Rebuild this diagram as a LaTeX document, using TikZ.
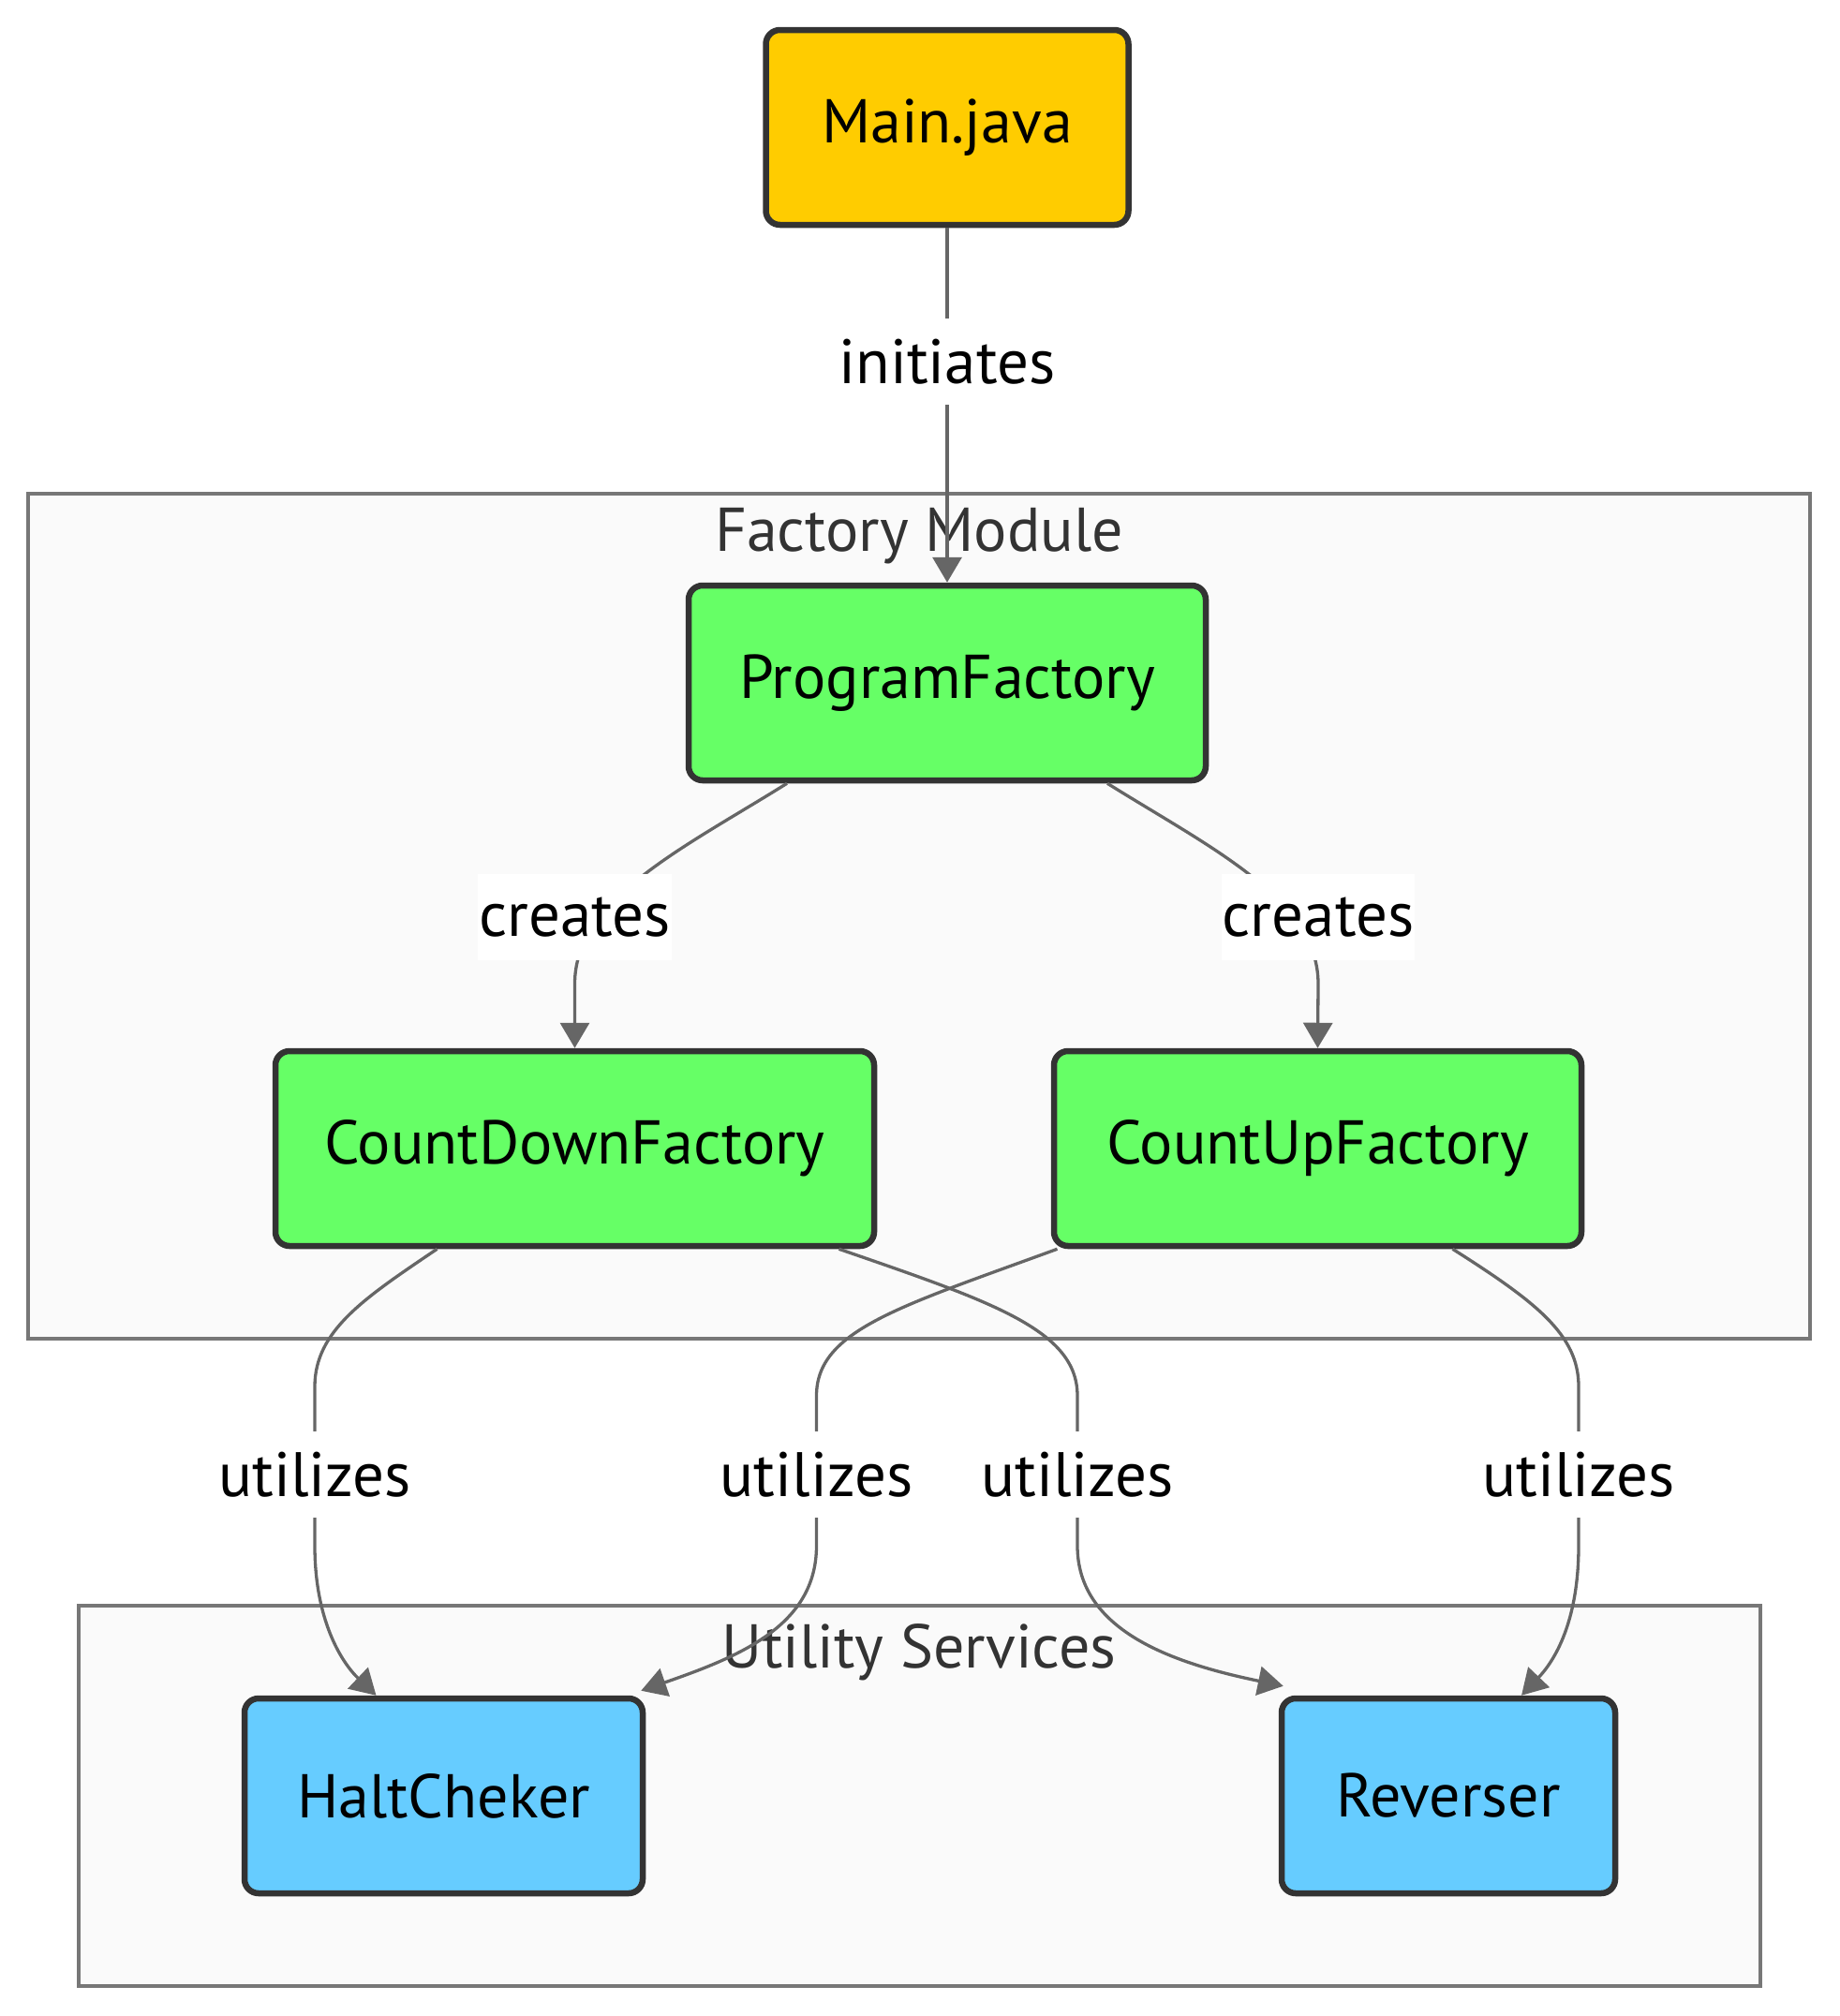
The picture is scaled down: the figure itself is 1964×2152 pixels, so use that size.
\documentclass[tikz,border=0pt]{standalone}
\usepackage{fontspec}
\setmainfont{PT Sans}
\usetikzlibrary{arrows.meta}
\definecolor{edgegray}{HTML}{666666}
\definecolor{nodeborder}{HTML}{333333}
\definecolor{mainfill}{HTML}{FFCC00}
\definecolor{factfill}{HTML}{66FF66}
\definecolor{utilfill}{HTML}{66CCFF}
\definecolor{framefill}{HTML}{FAFAFA}
\definecolor{framedraw}{HTML}{777777}
\definecolor{titlecol}{HTML}{333333}
\begin{document}
\begin{tikzpicture}[x=1pt,y=-1pt,
  box/.style={draw=nodeborder,line width=6.5pt,rounded corners=15pt,minimum height=208pt,inner sep=0pt,font=\fontsize{66}{78}\selectfont},
  frame/.style={draw=framedraw,fill=framefill,line width=3.3pt},
  ftitle/.style={text=titlecol,font=\fontsize{66}{78}\selectfont,inner sep=0pt},
  elabel/.style={fill=white,inner xsep=1pt,inner ysep=0pt,minimum height=92pt,font=\fontsize{67}{78}\selectfont},
  edge/.style={draw=edgegray,line width=3.3pt},
  arr/.style={edge,-{Triangle[length=27pt,width=31pt]},color=edgegray}
]
\useasboundingbox (0,0) rectangle (1964,2152);
% frames
\draw[frame] (30,527) rectangle (1932,1429);
\node[ftitle] (ftitle) at (981,572) {Factory Module};
\draw[frame] (84,1714) rectangle (1879,2120);
\node[ftitle] (utitle) at (981,1764) {Utility Services};
% nodes
\node[box,fill=mainfill,minimum width=387pt] (main) at (1011,136) {Main.java};
\node[box,fill=factfill,minimum width=552pt] (pf) at (1011,729) {ProgramFactory};
\node[box,fill=factfill,minimum width=639pt] (cdf) at (613.5,1226) {CountDownFactory};
\node[box,fill=factfill,minimum width=563pt] (cuf) at (1406.5,1226) {CountUpFactory};
\node[box,fill=utilfill,minimum width=425pt] (hc) at (473.5,1917) {HaltCheker};
\node[box,fill=utilfill,minimum width=356pt] (rev) at (1546,1917) {Reverser};
% edges
\draw[arr] (main.south) -- (pf.north);
\draw[arr] ([xshift=-171pt]pf.south) .. controls (730,905) and (613.5,960) .. (613.5,1050) -- (cdf.north);
\draw[arr] ([xshift=171pt]pf.south) .. controls (1292,905) and (1407,960) .. (1407,1050) -- (cuf.north);
\draw[arr] ([xshift=-147pt]cdf.south) .. controls (390,1385) and (336,1420) .. (336,1480) -- (336,1650) .. controls (336,1730) and (365,1775) .. ([xshift=-72pt]hc.north);
\draw[arr] ([xshift=-278pt]cuf.south) .. controls (960,1395) and (871.5,1420) .. (871.5,1490) -- (871.5,1650) .. controls (871.5,1735) and (790,1768) .. ([xshift=-5pt,yshift=5pt]hc.north east);
\draw[arr] ([xshift=282pt]cdf.south) .. controls (1060,1390) and (1150,1420) .. (1150,1490) -- (1150,1650) .. controls (1150,1740) and (1250,1775) .. ([xshift=5pt,yshift=10pt]rev.north west);
\draw[arr] ([xshift=144pt]cuf.south) .. controls (1640,1390) and (1685,1425) .. (1685,1480) -- (1685,1650) .. controls (1685,1730) and (1660,1772) .. ([xshift=78pt]rev.north);
% labels
\node[elabel] (l0) at (1011,386) {initiates};
\node[elabel] (l1) at (613.5,979) {creates};
\node[elabel] (l2) at (1407,979) {creates};
\node[elabel] (l3) at (336,1574) {utilizes};
\node[elabel] (l4) at (871.5,1574) {utilizes};
\node[elabel] (l5) at (1150,1574) {utilizes};
\node[elabel] (l6) at (1685,1574) {utilizes};
\end{tikzpicture}
\end{document}
